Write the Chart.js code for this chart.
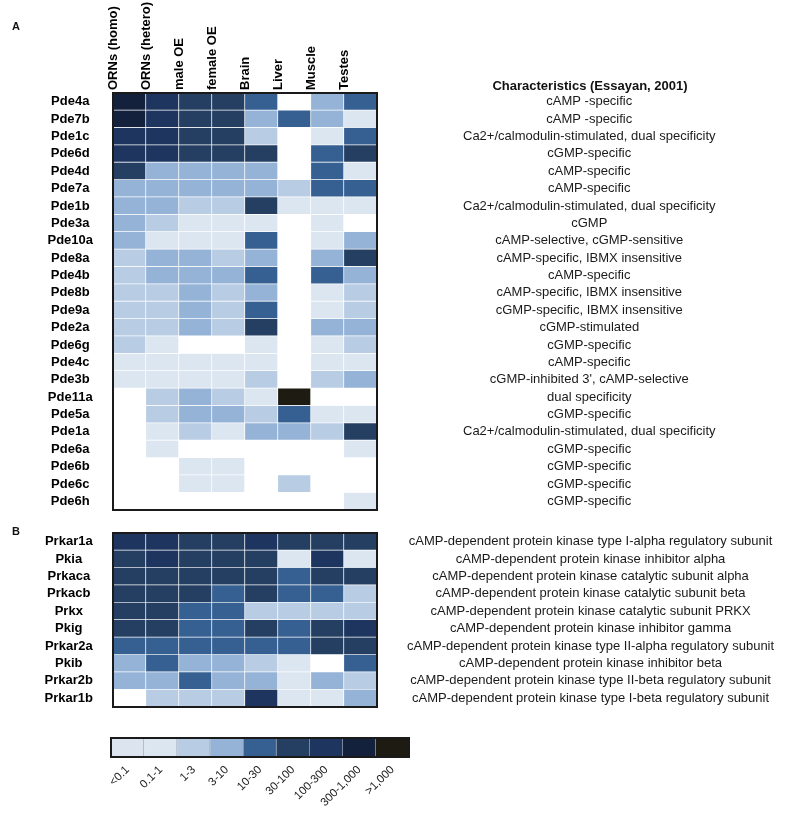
<!DOCTYPE html>
<html>
<head>
<meta charset="utf-8">
<script src="https://cdn.jsdelivr.net/npm/chart.js@4.4.1/dist/chart.umd.min.js"></script>
<style>
  body { margin: 0; background: #fff; font-family: "Liberation Sans", Arial, sans-serif; }
  #page { position: relative; width: 794px; height: 813px; }
  .box { position: absolute; left: 0; }
  .txt { position: absolute; color: #111; }
  .letter { font-weight: bold; font-size: 11px; }
  #heading { font-weight: bold; font-size: 13px; left: 390px; width: 400px; text-align: center; top: 78px; }
</style>
</head>
<body>
<div id="page">
  <div class="box" style="top:0"><canvas id="chart-a" width="794" height="520"></canvas></div>
  <div class="box" style="top:520px"><canvas id="chart-b" width="794" height="190"></canvas></div>
  <div class="box" style="top:725px"><canvas id="chart-key" width="794" height="88"></canvas></div>
  <div class="txt letter" style="left:12px;top:20px">A</div>
  <div class="txt letter" style="left:12px;top:525px">B</div>
  <div class="txt" id="heading">Characteristics (Essayan, 2001)</div>
</div>
<script>
const tissues = ["ORNs (homo)", "ORNs (hetero)", "male OE", "female OE", "Brain", "Liver", "Muscle", "Testes"];

const pdeGenes = ["Pde4a", "Pde7b", "Pde1c", "Pde6d", "Pde4d", "Pde7a", "Pde1b", "Pde3a", "Pde10a", "Pde8a",
  "Pde4b", "Pde8b", "Pde9a", "Pde2a", "Pde6g", "Pde4c", "Pde3b", "Pde11a", "Pde5a", "Pde1a",
  "Pde6a", "Pde6b", "Pde6c", "Pde6h"];

const pdeNotes = ["cAMP -specific", "cAMP -specific", "Ca2+/calmodulin-stimulated, dual specificity",
  "cGMP-specific", "cAMP-specific", "cAMP-specific", "Ca2+/calmodulin-stimulated, dual specificity",
  "cGMP", "cAMP-selective, cGMP-sensitive", "cAMP-specific, IBMX insensitive", "cAMP-specific",
  "cAMP-specific, IBMX insensitive", "cGMP-specific, IBMX insensitive", "cGMP-stimulated",
  "cGMP-specific", "cAMP-specific", "cGMP-inhibited 3', cAMP-selective", "dual specificity",
  "cGMP-specific", "Ca2+/calmodulin-stimulated, dual specificity", "cGMP-specific", "cGMP-specific",
  "cGMP-specific", "cGMP-specific"];

// expression class per cell, 0 = not detected, 1..9 = key bins below
const pdeLevels = [
  [8, 7, 6, 6, 5, 0, 4, 5],
  [8, 7, 6, 6, 4, 5, 4, 2],
  [7, 7, 6, 6, 3, 0, 2, 5],
  [7, 7, 6, 6, 6, 0, 5, 6],
  [6, 4, 4, 4, 4, 0, 5, 2],
  [4, 4, 4, 4, 4, 3, 5, 5],
  [4, 4, 3, 3, 6, 2, 2, 2],
  [4, 3, 2, 2, 2, 0, 2, 0],
  [4, 2, 2, 2, 5, 0, 2, 4],
  [3, 4, 4, 3, 4, 0, 4, 6],
  [3, 4, 4, 4, 5, 0, 5, 4],
  [3, 3, 4, 3, 4, 0, 2, 3],
  [3, 3, 4, 3, 5, 0, 2, 3],
  [3, 3, 4, 3, 6, 0, 4, 4],
  [3, 2, 0, 0, 2, 0, 2, 3],
  [2, 2, 2, 2, 2, 0, 2, 2],
  [2, 2, 2, 2, 3, 0, 3, 4],
  [0, 3, 4, 3, 2, 9, 0, 0],
  [0, 3, 4, 4, 3, 5, 2, 2],
  [0, 2, 3, 2, 4, 4, 3, 6],
  [0, 2, 0, 0, 0, 0, 0, 2],
  [0, 0, 2, 2, 0, 0, 0, 0],
  [0, 0, 2, 2, 0, 3, 0, 0],
  [0, 0, 0, 0, 0, 0, 0, 2]
];

const pkGenes = ["Prkar1a", "Pkia", "Prkaca", "Prkacb", "Prkx", "Pkig", "Prkar2a", "Pkib", "Prkar2b", "Prkar1b"];

const pkNotes = ["cAMP-dependent protein kinase type I-alpha regulatory subunit",
  "cAMP-dependent protein kinase inhibitor alpha",
  "cAMP-dependent protein kinase catalytic subunit alpha",
  "cAMP-dependent protein kinase catalytic subunit beta",
  "cAMP-dependent protein kinase catalytic subunit PRKX",
  "cAMP-dependent protein kinase inhibitor gamma",
  "cAMP-dependent protein kinase type II-alpha regulatory subunit",
  "cAMP-dependent protein kinase inhibitor beta",
  "cAMP-dependent protein kinase type II-beta regulatory subunit",
  "cAMP-dependent protein kinase type I-beta regulatory subunit"];

const pkLevels = [
  [7, 7, 6, 6, 7, 6, 6, 6],
  [6, 7, 6, 6, 6, 2, 7, 2],
  [6, 6, 6, 6, 6, 5, 6, 6],
  [6, 6, 6, 5, 6, 5, 5, 3],
  [6, 6, 5, 5, 3, 3, 3, 3],
  [6, 6, 5, 5, 6, 5, 6, 7],
  [5, 5, 5, 5, 5, 5, 6, 6],
  [4, 5, 4, 4, 3, 2, 0, 5],
  [4, 4, 5, 4, 4, 2, 4, 3],
  [0, 3, 3, 3, 7, 2, 2, 4]
];

const keyLabels = ["<0.1", "0.1-1", "1-3", "3-10", "10-30", "30-100", "100-300", "300-1,000", ">1,000"];
const levelColors = ["#ffffff", "#dbe4ef", "#dce6f1", "#b8cce4", "#95b3d7", "#366092",
  "#243f62", "#1e365f", "#14213c", "#1e1b12"];

const FONT = "'Liberation Sans', Arial, sans-serif";

// thick frame around the plot area
const framePlugin = {
  id: "frame",
  afterDatasetsDraw(chart) {
    const a = chart.chartArea;
    const ctx = chart.ctx;
    ctx.save();
    ctx.strokeStyle = "#1a1a1a";
    ctx.lineWidth = 2;
    ctx.strokeRect(a.left, a.top, a.right - a.left, a.bottom - a.top);
    ctx.restore();
  }
};

// fixed box size, and keep tick padding from eating into the plot height
function fixSize(w, h) {
  return s => {
    if (w) s.width = w;
    if (h) s.height = h;
    s.paddingTop = 0; s.paddingBottom = 0;
    s.paddingLeft = 0; s.paddingRight = 0;
  };
}

function heatmap(canvasId, genes, notes, levels, opts) {
  const datasets = tissues.map((t, c) => ({
    label: t,
    data: genes.map(() => 1),
    backgroundColor: levels.map(row => levelColors[row[c]]),
    borderColor: "#ffffff",
    borderWidth: { top: 0, left: 0, right: 1, bottom: 1 },
    borderSkipped: false,
    barPercentage: 1,
    categoryPercentage: 1
  }));

  const scales = {
    x: { stacked: true, min: 0, max: tissues.length, display: false },
    y: {
      type: "category",
      position: "left",
      stacked: true,
      offset: true,
      grid: { display: false, drawTicks: false },
      border: { display: false },
      ticks: { crossAlign: "center", padding: 20, autoSkip: false, color: "#000",
        font: { family: FONT, size: 13, weight: "bold" } },
      afterFit: fixSize(113, 0)
    },
    y2: {
      type: "category",
      axis: "y",
      position: "right",
      labels: notes,
      offset: true,
      grid: { display: false, drawTicks: false },
      border: { display: false },
      ticks: { crossAlign: "center", padding: opts.notePad, autoSkip: false, color: "#1a1a1a",
        font: { family: FONT, size: 13 } },
      afterFit: fixSize(417, 0)
    }
  };

  if (opts.header) {
    scales.xTop = {
      type: "category",
      axis: "x",
      position: "top",
      labels: tissues,
      offset: true,
      grid: { display: false, drawTicks: false },
      border: { display: false },
      ticks: { minRotation: 90, maxRotation: 90, padding: 3, autoSkip: false, color: "#000",
        font: { family: FONT, size: 13, weight: "bold" } },
      afterFit: fixSize(0, 93)
    };
  }

  return new Chart(document.getElementById(canvasId), {
    type: "bar",
    data: { labels: genes, datasets },
    options: {
      indexAxis: "y",
      responsive: false,
      animation: false,
      devicePixelRatio: 1,
      layout: { padding: opts.padding },
      plugins: { legend: { display: false }, tooltip: { enabled: false } },
      scales
    },
    plugins: [framePlugin]
  });
}

heatmap("chart-a", pdeGenes, pdeNotes, pdeLevels,
  { header: true, notePad: 86, padding: { top: 0, bottom: 10, left: 0, right: 0 } });

heatmap("chart-b", pkGenes, pkNotes, pkLevels,
  { header: false, notePad: 30, padding: { top: 13, bottom: 3, left: 0, right: 0 } });

// colour key
new Chart(document.getElementById("chart-key"), {
  type: "bar",
  data: {
    labels: keyLabels,
    datasets: [{
      data: keyLabels.map(() => 1),
      backgroundColor: levelColors.slice(1),
      borderColor: "rgba(140,150,165,0.9)",
      borderWidth: { top: 0, left: 0, right: 1, bottom: 0 },
      borderSkipped: false,
      barPercentage: 1,
      categoryPercentage: 1
    }]
  },
  options: {
    responsive: false,
    animation: false,
    devicePixelRatio: 1,
    layout: { padding: { top: 13, left: 111, right: 385, bottom: 0 } },
    plugins: { legend: { display: false }, tooltip: { enabled: false } },
    scales: {
      x: {
        grid: { display: false, drawTicks: false },
        border: { display: false },
        ticks: { minRotation: 45, maxRotation: 45, padding: 6, autoSkip: false, color: "#222",
          font: { family: FONT, size: 11.5 } },
        afterFit: fixSize(0, 56)
      },
      y: { min: 0, max: 1, display: false }
    }
  },
  plugins: [framePlugin]
});
</script>
</body>
</html>
